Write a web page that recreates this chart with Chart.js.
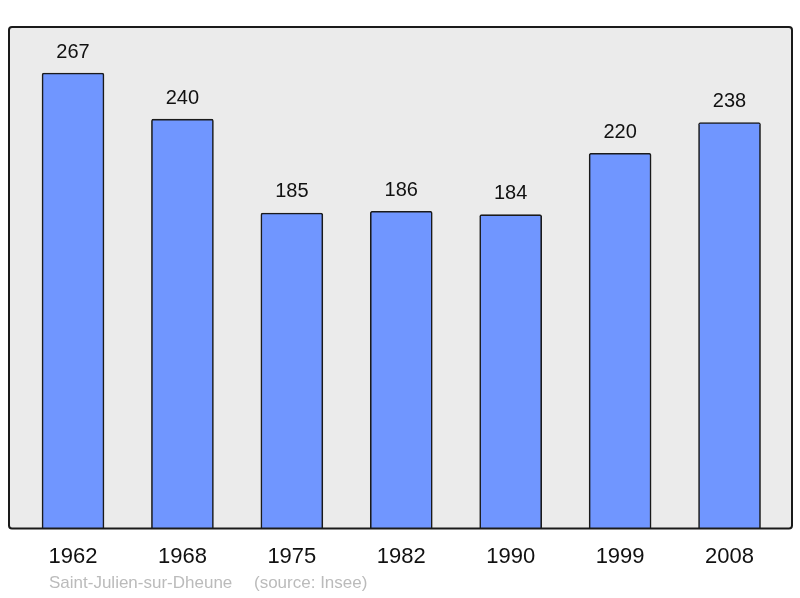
<!DOCTYPE html>
<html>
<head>
<meta charset="utf-8">
<script src="https://cdn.jsdelivr.net/npm/chart.js@4"></script>
<style>
  html, body { margin: 0; padding: 0; background: #fff; }
  #wrap { width: 800px; height: 598px; }
</style>
</head>
<body>
<div id="wrap"><canvas id="chart" width="800" height="598"></canvas></div>
<script>
// census years and population
const years = ['1962', '1968', '1975', '1982', '1990', '1999', '2008'];
const population = [267, 240, 185, 186, 184, 220, 238];
const placeName = 'Saint-Julien-sur-Dheune';
const sourceText = '(source: Insee)';

// grey box behind the plot, with a dark frame
const boxPlugin = {
  id: 'box',
  beforeDraw(chart) {
    const { ctx, chartArea: a } = chart;
    ctx.save();
    ctx.fillStyle = '#ebebeb';
    ctx.fillRect(a.left, a.top, a.right - a.left, a.bottom - a.top);
    ctx.restore();
  },
  afterDatasetsDraw(chart) {
    const { ctx, chartArea: a } = chart;
    ctx.save();
    ctx.strokeStyle = '#1a1a1a';
    ctx.lineWidth = 2;
    ctx.beginPath();
    ctx.roundRect(a.left, a.top, a.right - a.left, a.bottom - a.top, 3);
    ctx.stroke();
    ctx.restore();
  }
};

// value over each bar + source line under the axis
const labelPlugin = {
  id: 'labels',
  afterDatasetsDraw(chart) {
    const { ctx } = chart;
    const meta = chart.getDatasetMeta(0);
    ctx.save();
    ctx.fillStyle = '#111';
    ctx.font = '20px "Liberation Sans", Arial, sans-serif';
    ctx.textAlign = 'center';
    ctx.textBaseline = 'middle';
    meta.data.forEach((bar, i) => {
      ctx.fillText(population[i], bar.x, bar.y - 21);
    });
    ctx.fillStyle = '#bbbbbb';
    ctx.font = '17px "Liberation Sans", Arial, sans-serif';
    ctx.textAlign = 'left';
    ctx.fillText(placeName, 49, 583);
    ctx.fillText(sourceText, 254, 583);
    ctx.restore();
  }
};

new Chart(document.getElementById('chart').getContext('2d'), {
  type: 'bar',
  data: {
    datasets: [{
      data: population.map((v, i) => ({ x: i, y: v })),
      backgroundColor: '#7096ff',
      borderColor: '#1a1a1a',
      borderWidth: 1.6,
      borderRadius: 2,
      barThickness: 62
    }]
  },
  options: {
    responsive: false,
    animation: false,
    layout: { padding: { left: 9, right: 8, top: 27, bottom: 13 } },
    plugins: { legend: { display: false }, tooltip: { enabled: false } },
    scales: {
      x: {
        type: 'linear',
        offset: false,
        min: -0.585,
        max: 6.571,
        grid: { display: false, drawTicks: false },
        border: { display: false },
        afterBuildTicks(scale) {
          scale.ticks = years.map((y, i) => ({ value: i }));
        },
        ticks: {
          padding: 15,
          color: '#111',
          font: { family: '"Liberation Sans", Arial, sans-serif', size: 22 },
          callback: (v) => years[v]
        }
      },
      y: {
        display: false,
        min: 0,
        max: 294
      }
    }
  },
  plugins: [boxPlugin, labelPlugin]
});
</script>
</body>
</html>
